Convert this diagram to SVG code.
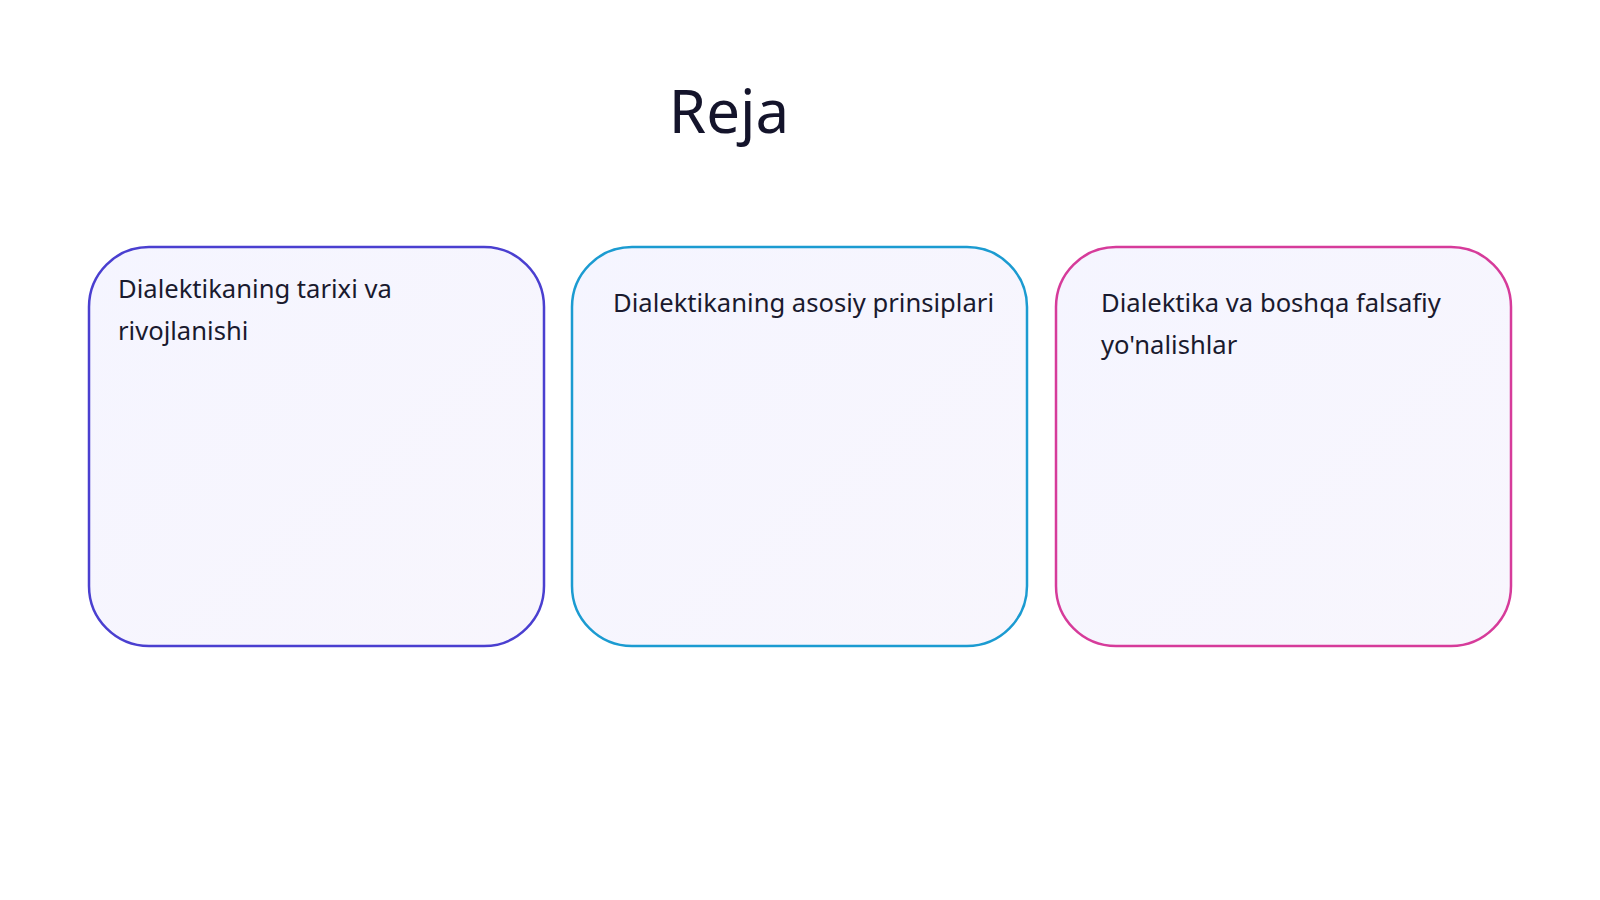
<svg xmlns="http://www.w3.org/2000/svg" width="1600" height="900" viewBox="0 0 1600 900">
<style>
.t{font-family:"Noto Sans","Open Sans",sans-serif;font-size:25.6px;fill:#1a1a2e}
.b{stroke-width:2.5}
</style>
<defs>
<linearGradient id="g" x1="0" y1="0" x2="1" y2="1"><stop offset="0" stop-color="#f5f5ff"/><stop offset="1" stop-color="#f8f6fd"/></linearGradient>
</defs>
<rect width="1600" height="900" fill="#ffffff"/>
<text x="729" y="133" text-anchor="middle" font-family="'Noto Sans','Open Sans',sans-serif" font-size="60" fill="#14142b">Reja</text>
<g id="node1">
<rect class="b" x="89" y="247" width="455" height="399" rx="60" fill="url(#g)" stroke="#4a3fd0"/>
<text class="t" x="118" y="298">Dialektikaning tarixi va</text>
<text class="t" x="118" y="340">rivojlanishi</text>
</g>
<g id="node2">
<rect class="b" x="572" y="247" width="455" height="399" rx="60" fill="url(#g)" stroke="#1b9bd1"/>
<text class="t" x="613" y="312">Dialektikaning asosiy prinsiplari</text>
</g>
<g id="node3">
<rect class="b" x="1056" y="247" width="455" height="399" rx="60" fill="url(#g)" stroke="#d63b9a"/>
<text class="t" x="1101" y="312">Dialektika va boshqa falsafiy</text>
<text class="t" x="1101" y="354">yo'nalishlar</text>
</g>
<g id="connectors"></g>
</svg>
